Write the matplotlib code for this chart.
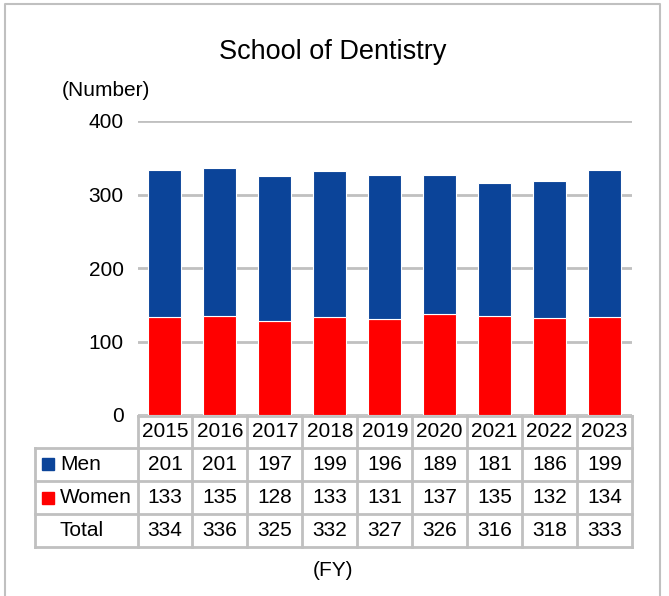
import matplotlib.pyplot as plt
from matplotlib.patches import Rectangle
from matplotlib.lines import Line2D

plt.rcParams['font.family'] = ['Liberation Sans', 'DejaVu Sans']

# data
years = ['2015', '2016', '2017', '2018', '2019', '2020', '2021', '2022', '2023']
men = [201, 201, 197, 199, 196, 189, 181, 186, 199]
women = [133, 135, 128, 133, 131, 137, 135, 132, 134]
total = [334, 336, 325, 332, 327, 326, 316, 318, 333]

men_color = '#0b4499'
women_color = '#ff0000'
grid_color = '#c0c0c0'
fs = 15

W, H = 669, 596
fig = plt.figure(figsize=(W / 100, H / 100), dpi=100)

def fx(px):
    return px / W

def fy(py):
    return 1 - py / H

# outer frame (bottom runs off the picture)
fig.add_artist(Line2D([fx(5), fx(5), fx(660), fx(660)],
                      [fy(600), fy(4), fy(4), fy(600)],
                      color=grid_color, lw=1.5))

x0, x1 = 137.5, 632
y_top, y_bot = 121, 415
ax = fig.add_axes([fx(x0), fy(y_bot), fx(x1) - fx(x0), fy(y_top) - fy(y_bot)])

pos = range(len(years))
ax.bar(pos, women, width=0.6, color=women_color, edgecolor='white', lw=0.8, zorder=3)
ax.bar(pos, men, width=0.6, bottom=women, color=men_color, edgecolor='white', lw=0.8, zorder=3)
ax.set_xlim(-0.5, len(years) - 0.5)
ax.set_ylim(0, 400)
ax.set_yticks([0, 100, 200, 300, 400])
ax.yaxis.grid(True, color=grid_color, lw=2)
ax.set_xticks([])
ax.tick_params(axis='y', length=0, labelsize=fs, pad=10)
for s in ax.spines.values():
    s.set_visible(False)

fig.text(fx(333), fy(52), 'School of Dentistry', ha='center', va='center', fontsize=19.5)
fig.text(fx(106), fy(90), '(Number)', ha='center', va='center', fontsize=fs)
fig.text(fx(333), fy(571), '(FY)', ha='center', va='center', fontsize=fs)

# table below the plot
col_w = (x1 - x0) / len(years)
row_edges = [416, 447.5, 481, 514, 546.5]
label_x0 = 35
line_kw = dict(color=grid_color, lw=2)

# horizontal lines
fig.add_artist(Line2D([fx(x0), fx(x1)], [fy(row_edges[0])] * 2, **line_kw))
for r in row_edges[1:]:
    fig.add_artist(Line2D([fx(label_x0), fx(x1)], [fy(r)] * 2, **line_kw))
# vertical lines
for i in range(len(years) + 1):
    xx = x0 + i * col_w
    fig.add_artist(Line2D([fx(xx)] * 2, [fy(row_edges[0]), fy(row_edges[-1])], **line_kw))
fig.add_artist(Line2D([fx(label_x0)] * 2, [fy(row_edges[1]), fy(row_edges[-1])], **line_kw))

rows = [years, men, women, total]
for r, vals in enumerate(rows):
    yc = (row_edges[r] + row_edges[r + 1]) / 2
    for i, v in enumerate(vals):
        fig.text(fx(x0 + (i + 0.5) * col_w), fy(yc), str(v), ha='center', va='center', fontsize=fs)

labels = [('Men', men_color), ('Women', women_color), ('Total', None)]
for k, (lab, c) in enumerate(labels):
    yc = (row_edges[k + 1] + row_edges[k + 2]) / 2
    if c:
        fig.add_artist(Rectangle((fx(42), fy(yc + 6)), fx(12), fy(0) - fy(12), color=c))
    fig.text(fx(60), fy(yc), lab, ha='left', va='center', fontsize=fs)

fig.savefig('out.png', dpi=100)
